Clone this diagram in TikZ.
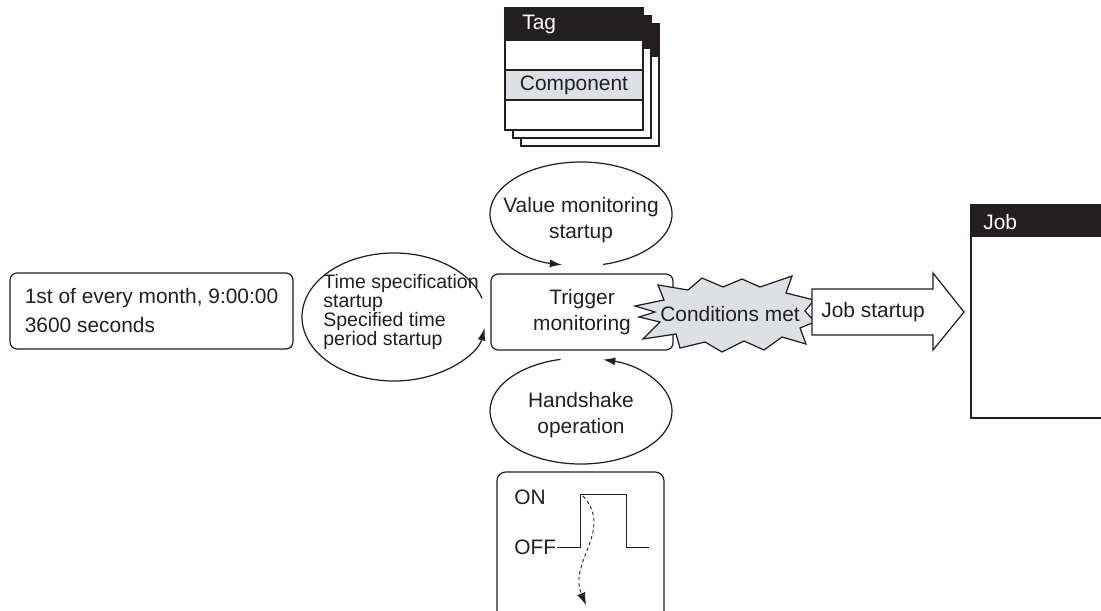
\documentclass[tikz,border=0pt]{standalone}
\usepackage{fontspec}
\setmainfont{Liberation Sans}
\usepackage{tikz}
\usetikzlibrary{arrows.meta, positioning, calc}

\definecolor{ink}{HTML}{231F20}
\definecolor{panel}{HTML}{DDE0E4}

\begin{document}
\begin{tikzpicture}[
    x=0.02cm, y=-0.02cm,
    every node/.style={font=\fontsize{11.9}{14.5}\selectfont, text=ink},
    inkline/.style={draw=ink, line width=0.7pt},
    roundbox/.style={inkline, rectangle, rounded corners=4pt, fill=white},
    cyclearrow/.style={inkline, -{Latex[length=7pt, width=4.5pt]}},
    plain/.style={inner sep=0pt}
]
    \useasboundingbox (0,0) rectangle (1101,611);
    \clip (0,0) rectangle (1101,611);

    % stack of tag cards
    \foreach \d in {16,8,0} {
        \filldraw[inkline, fill=white] (505+\d,8+\d) rectangle (643+\d,130+\d);
        \filldraw[inkline, fill=ink] (505+\d,8+\d) rectangle (643+\d,40+\d);
    }
    \filldraw[inkline, fill=panel] (505,70) rectangle (643,100);
    \node[plain, anchor=west, text=white] (tag) at (522,24) {Tag};
    \node[plain] (component) at (574,85) {Component};

    % time setting and trigger
    \node[roundbox, minimum width=5.66cm, minimum height=1.52cm, align=left,
          font=\fontsize{11.9}{16.5}\selectfont] (period) at (151.5,311) {1st of every month, 9:00:00\\3600 seconds};
    \node[roundbox, minimum width=3.64cm, minimum height=1.52cm, align=center] (trigger) at (582,312) {Trigger\\monitoring};

    % startup cycles
    \coordinate (valc) at (581,214);
    \node[plain, align=center] (valmon) at (581,220) {Value monitoring\\startup};
    \draw[cyclearrow] ([shift={(76:91 and 52)}]valc) arc[start angle=76, end angle=-258, x radius=91, y radius=52];

    \coordinate (handc) at (581,411);
    \node[plain, align=center] (handshake) at (581,415) {Handshake\\operation};
    \draw[cyclearrow] ([shift={(-103:91 and 53)}]handc) arc[start angle=-103, end angle=-436, x radius=91, y radius=53];

    \coordinate (timec) at (394,317);
    \node[plain, align=left, font=\fontsize{11.1}{10.9}\selectfont] (timespec) at (401,312) {Time specification\\startup\\Specified time\\period startup};
    \draw[cyclearrow] ([shift={(-17:92 and 64)}]timec) arc[start angle=-17, end angle=-350, x radius=92, y radius=64];

    % conditions met
    \filldraw[inkline, fill=panel] (635,306) -- (664,300) -- (658,285) -- (688,290) -- (702,278)
        -- (723,287) -- (742,279) -- (760,287) -- (792,276) -- (786,293) -- (814,300) -- (805,311)
        -- (815,322) -- (800,328) -- (806,344) -- (782,337) -- (764,350) -- (744,341) -- (722,352)
        -- (705,342) -- (680,348) -- (676,334) -- (643,339) -- (660,322) -- (639,317) -- (655,312) -- cycle;
    \node[plain] (met) at (730,314) {Conditions met};

    % job startup
    \filldraw[inkline, fill=white] (812,289) -- (933,289) -- (933,273) -- (964,312)
        -- (933,350) -- (933,335) -- (812,335) -- cycle;
    \node[plain, anchor=west] (jobstart) at (821,312) {Job startup};

    \draw[inkline] (971,205) rectangle (1115,418);
    \fill[ink] (971,205) rectangle (1115,237);
    \node[plain, anchor=west, text=white] (job) at (983,222) {Job};

    % handshake signal
    \draw[inkline, rounded corners=5pt] (497,625) -- (497,472) -- (664,472) -- (664,625);
    \node[plain, anchor=west] (on) at (514,497) {ON};
    \node[plain, anchor=west] (off) at (514,547) {OFF};
    \draw[inkline, line width=0.5pt] (off.east) -- ++(24,0) -- ++(0,-53) -- ++(46,0) -- ++(0,53) -- ++(22,0);
    \coordinate (pulse) at (583,496);
    \coordinate (fall) at (586,605);
    \draw[inkline, line width=0.5pt, dash pattern=on 2pt off 1.5pt, -{Latex[length=7pt, width=5pt]}]
        (pulse) .. controls (614,530) and (568,562) .. (fall);
\end{tikzpicture}
\end{document}
